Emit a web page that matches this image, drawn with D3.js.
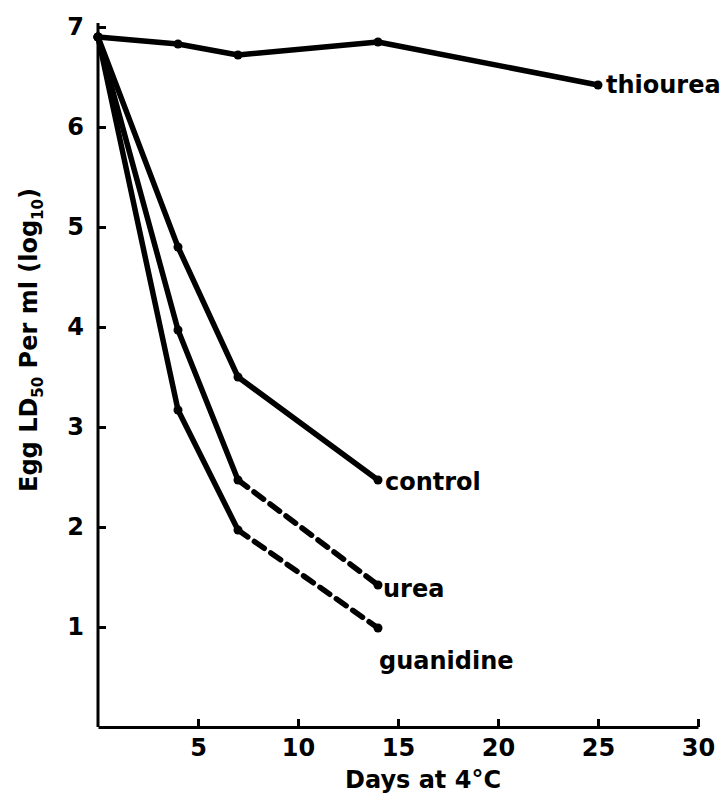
<!DOCTYPE html>
<meta charset="utf-8">
<script src="https://d3js.org/d3.v7.min.js"></script>
<style>
  body { margin: 0; background: #fff; }
  text { font-family: "DejaVu Sans", sans-serif; font-weight: bold; fill: #000; }
</style>
<body>
<script>
// Values (days at 4 C vs log10 egg LD50 per ml).
const thioureaDays = [0, 4, 7, 14, 25];
const thioureaVals = [6.9, 6.83, 6.72, 6.85, 6.42];

const controlDays = [0, 4, 7, 14];
const controlVals = [6.9, 4.8, 3.5, 2.47];

const ureaDays = [0, 4, 7, 14];
const ureaVals = [6.9, 3.97, 2.47, 1.42];

const guanidineDays = [0, 4, 7, 14];
const guanidineVals = [6.9, 3.17, 1.97, 0.99];

const xTicks = [5, 10, 15, 20, 25, 30];
const yTicks = [1, 2, 3, 4, 5, 6, 7];

// Which point the dashed part starts from (null = all solid).
const series = [
  { name: "thiourea", days: thioureaDays, vals: thioureaVals, dashFrom: null, dx: 8, dy: 0 },
  { name: "control", days: controlDays, vals: controlVals, dashFrom: null, dx: 7, dy: 2 },
  { name: "urea", days: ureaDays, vals: ureaVals, dashFrom: 2, dx: 5, dy: 4 },
  { name: "guanidine", days: guanidineDays, vals: guanidineVals, dashFrom: 2, dx: 1, dy: 33 }
];

let svg = d3.select("body").append("svg")
    .attr("width", 722)
    .attr("height", 800);

let x = d3.scaleLinear().domain([0, 30]).range([98, 698]);
let y = d3.scaleLinear().domain([0, 7]).range([727, 27]);

// Axes: ticks point inward, no domain end caps.
let xAxis = svg.append("g")
    .attr("transform", "translate(0," + y(0) + ")")
    .call(d3.axisBottom(x).tickValues(xTicks).tickFormat(d3.format("d"))
      .tickSize(-8).tickSizeOuter(0).tickPadding(16));

let yAxis = svg.append("g")
    .attr("transform", "translate(" + x(0) + ",0)")
    .call(d3.axisLeft(y).tickValues(yTicks).tickFormat(d3.format("d"))
      .tickSize(-8).tickSizeOuter(0).tickPadding(14));

[xAxis, yAxis].forEach(function(ax) {
  ax.select(".domain").attr("stroke", "#000").attr("stroke-width", 3);
  ax.selectAll(".tick line").attr("stroke", "#000").attr("stroke-width", 3);
  ax.selectAll(".tick text")
    .style("font-family", "'DejaVu Sans', sans-serif")
    .style("font-weight", "bold")
    .style("font-size", "24px")
    .attr("fill", "#000");
});
xAxis.selectAll(".tick text").attr("dy", "0.55em");
yAxis.select(".domain").attr("d", "M0," + y(0) + "V" + (y(7) - 4));

let line = d3.line()
    .x(d => x(d[0]))
    .y(d => y(d[1]));

series.forEach(function(s) {
  let pts = d3.zip(s.days, s.vals);
  let solid = s.dashFrom === null ? pts : pts.slice(0, s.dashFrom + 1);
  let dashed = s.dashFrom === null ? [] : pts.slice(s.dashFrom);

  svg.append("path")
      .attr("d", line(solid))
      .attr("fill", "none")
      .attr("stroke", "#000")
      .attr("stroke-width", 5.5)
      .attr("stroke-linejoin", "round")
      .attr("stroke-linecap", "round");

  if (dashed.length) {
    svg.append("path")
        .attr("d", line(dashed))
        .attr("fill", "none")
        .attr("stroke", "#000")
        .attr("stroke-width", 5.5)
        .attr("stroke-dasharray", "12,8")
        .attr("stroke-linecap", "round");
  }

  svg.selectAll(null)
      .data(pts)
      .enter().append("circle")
      .attr("cx", d => x(d[0]))
      .attr("cy", d => y(d[1]))
      .attr("r", 4.5)
      .attr("fill", "#000");

  let last = pts[pts.length - 1];
  svg.append("text")
      .attr("x", x(last[0]) + s.dx)
      .attr("y", y(last[1]) + s.dy)
      .attr("dominant-baseline", "central")
      .style("font-size", "24px")
      .text(s.name);
});

// Axis titles.
svg.append("text")
    .attr("x", x(16.25))
    .attr("y", 788)
    .attr("text-anchor", "middle")
    .style("font-size", "24px")
    .text("Days at 4\u00B0C");

let yt = svg.append("text")
    .attr("transform", "translate(37,340) rotate(-90)")
    .attr("text-anchor", "middle")
    .style("font-size", "24px");
yt.append("tspan").text("Egg LD");
yt.append("tspan").attr("dy", 6).style("font-size", "15px").text("50");
yt.append("tspan").attr("dy", -6).text(" Per ml (log");
yt.append("tspan").attr("dy", 6).style("font-size", "15px").text("10");
yt.append("tspan").attr("dy", -6).text(")");
</script>
</body>
</html>
